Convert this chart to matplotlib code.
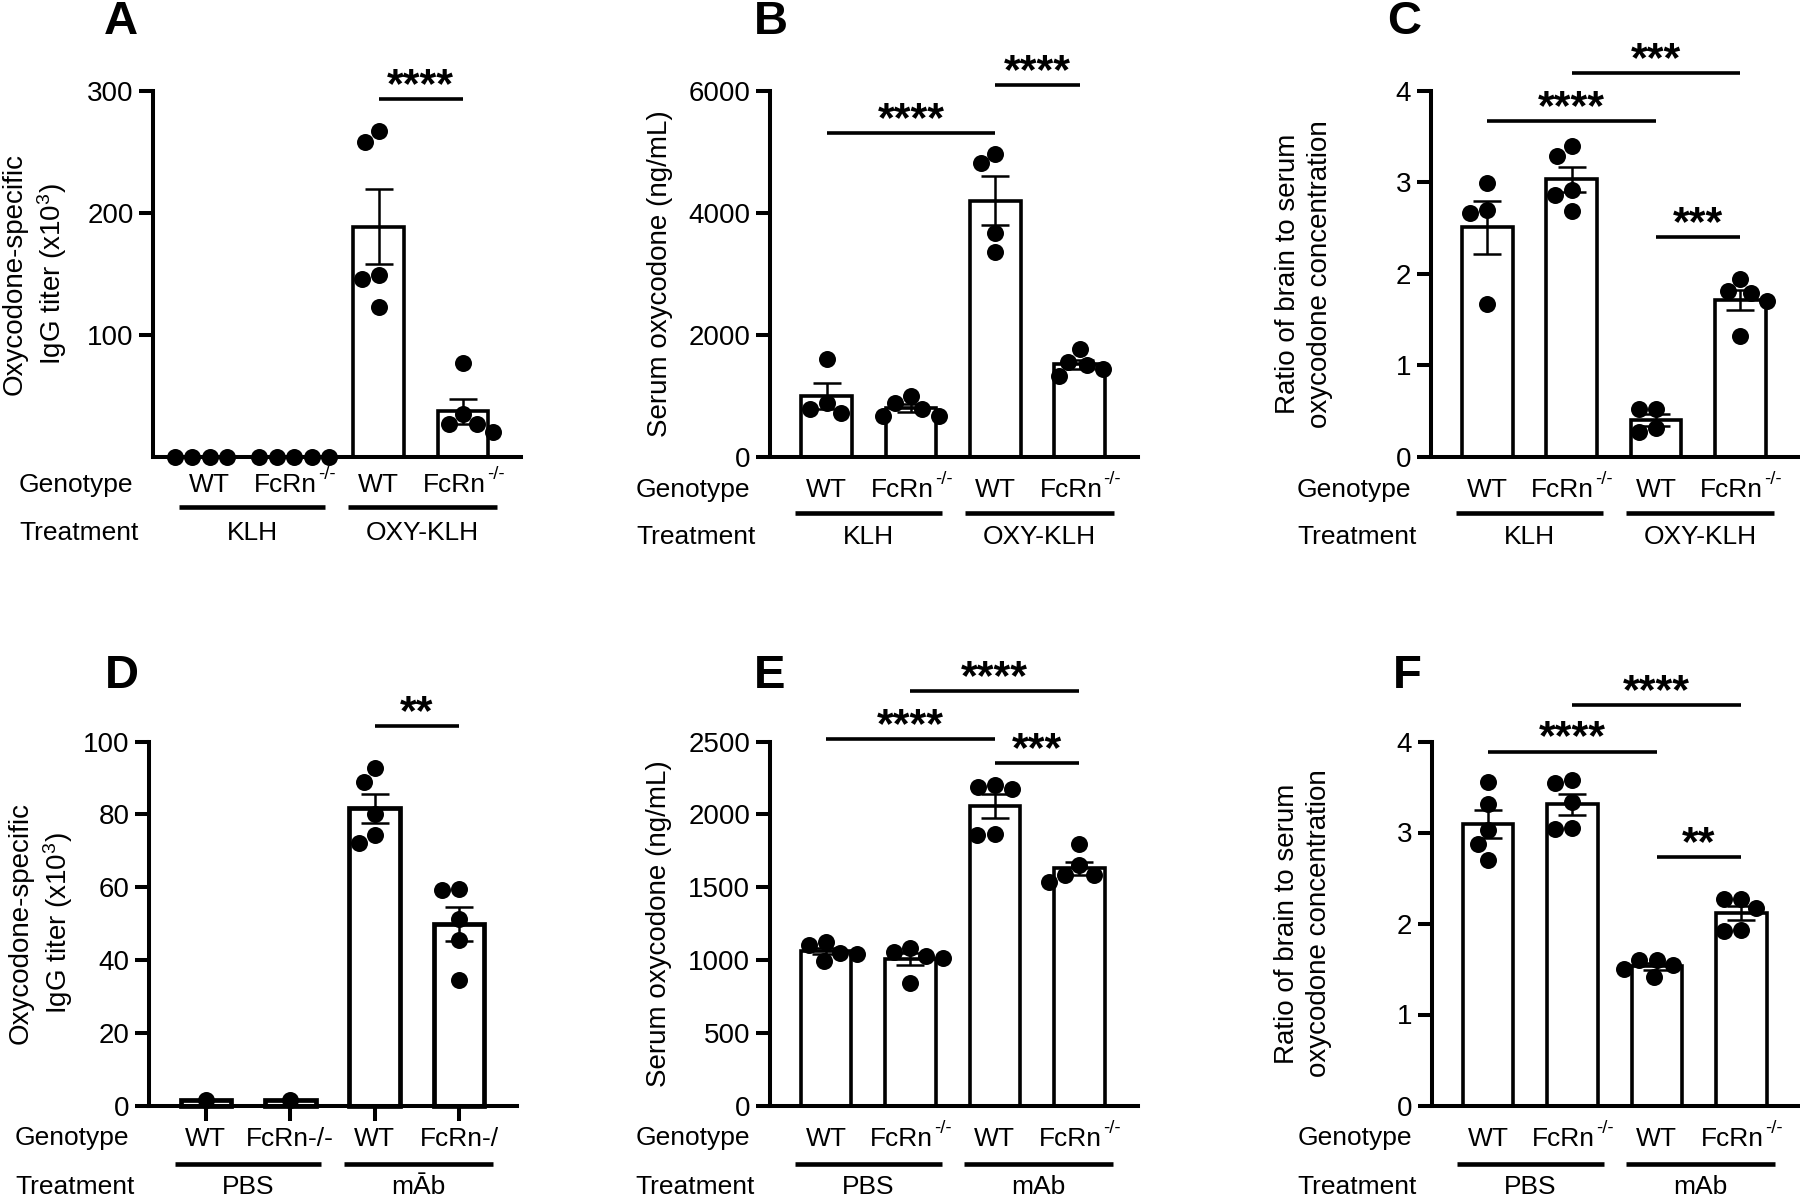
import numpy as np
import matplotlib
matplotlib.use('Agg')
import matplotlib.pyplot as plt
from matplotlib.transforms import offset_copy

plt.rcParams['font.family'] = ['Liberation Sans', 'DejaVu Sans']
plt.rcParams['mathtext.default'] = 'regular'

W, H, DPI = 1800, 1198, 100

# ---------------- data ----------------
# genotype labels: (base text, superscript text)
genotypes = [('WT', ''), ('FcRn', '-/-'), ('WT', ''), ('FcRn', '-/-')]
genotypes_D = [('WT', ''), ('FcRn-/-', ''), ('WT', ''), ('FcRn-/', '')]
treat_vaccine = ['KLH', 'OXY-KLH']
treat_mab = ['PBS', 'mAb']
treat_mab_D = ['PBS', 'mĀb']

A_points = [[0, 0, 0, 0], [0, 0, 0, 0, 0],
            [267, 258, 149, 146, 123], [77, 35, 26.5, 27, 20.6]]
B_points = [[1608, 716, 875, 775], [992, 875, 669, 669, 775],
            [4808, 4961, 3669, 3358], [1773, 1556, 1509, 1432, 1315]]
C_points = [[2.99, 2.70, 2.66, 1.67], [3.40, 3.29, 2.92, 2.86, 2.68],
            [0.52, 0.52, 0.27, 0.31], [1.94, 1.81, 1.79, 1.70, 1.32]]
D_points = [[1.5], [1.5],
            [92.7, 88.9, 80.2, 74.4, 72.2], [59.4, 59.1, 51.2, 45.5, 34.6]]
E_points = [[1100, 1123, 1043, 1048, 992], [1085, 1030, 1010, 1055, 842],
            [2186, 2204, 2173, 1859, 1864], [1796, 1651, 1583, 1583, 1538]]
F_points = [[3.56, 3.31, 3.03, 2.87, 2.70], [3.58, 3.54, 3.34, 3.05, 3.04],
            [1.60, 1.60, 1.54, 1.50, 1.41], [2.27, 2.27, 2.17, 1.92, 1.93]]

A_sig = [(2, 3, 293, '****')]
B_sig = [(0, 2, 5300, '****'), (2, 3, 6090, '****')]
C_sig = [(0, 2, 3.67, '****'), (1, 3, 4.19, '***'), (2, 3, 2.40, '***')]
D_sig = [(2, 3, 104.3, '**')]
E_sig = [(0, 2, 2518, '****'), (1, 3, 2844, '****'), (2, 3, 2354, '***')]
F_sig = [(0, 2, 3.89, '****'), (1, 3, 4.40, '****'), (2, 3, 2.73, '**')]

A_ticks = [100, 200, 300]
B_ticks = [0, 2000, 4000, 6000]
C_ticks = [0, 1, 2, 3, 4]
D_ticks = [0, 20, 40, 60, 80, 100]
E_ticks = [0, 500, 1000, 1500, 2000, 2500]
F_ticks = [0, 1, 2, 3, 4]

ylabel_titer = 'Oxycodone-specific\nIgG titer (x10$^3$)'
ylabel_serum = 'Serum oxycodone (ng/mL)'
ylabel_ratio = 'Ratio of brain to serum\noxycodone concentration'

# ---------------- layout (pixels) ----------------
AX_W = 368
XLIM = (-0.67, 3.69)
panels = [
    dict(letter='A', left=153.3, bottom=456.7, h=366, pts=A_points, ticks=A_ticks,
         ylab=ylabel_titer, ylx=-118, gen=genotypes, trt=treat_vaccine, sig=A_sig,
         offs=(28, 50, 76), letter_xy=(121, 22), xticks=False, lw_bar=2.6),
    dict(letter='B', left=770, bottom=456.7, h=366, pts=B_points, ticks=B_ticks,
         ylab=ylabel_serum, ylx=-110, gen=genotypes, trt=treat_vaccine, sig=B_sig,
         offs=(33, 56, 80), letter_xy=(771, 22), xticks=False, lw_bar=2.6),
    dict(letter='C', left=1430.7, bottom=456.7, h=366, pts=C_points, ticks=C_ticks,
         ylab=ylabel_ratio, ylx=-127, gen=genotypes, trt=treat_vaccine, sig=C_sig,
         offs=(33, 56, 80), letter_xy=(1404, 22), xticks=False, lw_bar=2.6),
    dict(letter='D', left=149.3, bottom=1105.5, h=364, pts=D_points, ticks=D_ticks,
         ylab=ylabel_titer, ylx=-108, gen=genotypes_D, trt=treat_mab_D, sig=D_sig,
         offs=(33, 58, 81), letter_xy=(122, 676), xticks=True, lw_bar=3.4),
    dict(letter='E', left=769.5, bottom=1105.5, h=364, pts=E_points, ticks=E_ticks,
         ylab=ylabel_serum, ylx=-110, gen=genotypes, trt=treat_mab, sig=E_sig,
         offs=(33, 58, 81), letter_xy=(770, 676), xticks=False, lw_bar=2.6),
    dict(letter='F', left=1431.5, bottom=1105.5, h=364, pts=F_points, ticks=F_ticks,
         ylab=ylabel_ratio, ylx=-128, gen=genotypes, trt=treat_mab, sig=F_sig,
         offs=(33, 58, 81), letter_xy=(1407, 676), xticks=False, lw_bar=2.6),
]

FS = 19
FS_AX = 20
MARKER_PX = 17.0


def swarm(values, px_per_y, px_per_x, d):
    """Beeswarm x offsets (data units) so that markers of diameter d px don't overlap."""
    ys = np.asarray(values, float) * px_per_y
    order = np.argsort(-ys, kind='stable')
    placed = []
    xs = np.zeros(len(ys))
    for i in order:
        y = ys[i]
        cands = [0.0]
        for (px, py) in placed:
            dy = abs(py - y)
            if dy < d:
                dx = np.sqrt(d * d - dy * dy)
                cands += [px - dx, px + dx]
        best = 0.0
        for c in sorted(cands, key=lambda v: (round(abs(v), 6), v)):
            if all((c - px) ** 2 + (y - py) ** 2 >= d * d - 1e-6 for (px, py) in placed):
                best = c
                break
        placed.append((best, y))
        xs[i] = best / px_per_x
    return xs


fig = plt.figure(figsize=(W / DPI, H / DPI), dpi=DPI)
renderer = fig.canvas.get_renderer()


def label_with_sup(ax, xd, ya, base, sup):
    tr = ax.get_xaxis_transform()
    if not sup:
        ax.text(xd, ya, base, transform=tr, ha='center', va='center', fontsize=FS,
                clip_on=False)
        return
    t1 = ax.text(xd, ya, base, transform=tr, ha='left', va='center', fontsize=FS,
                 clip_on=False)
    t2 = ax.text(xd, ya, sup, transform=tr, ha='left', va='center', fontsize=FS * 0.7,
                 clip_on=False)
    w1 = t1.get_window_extent(renderer).width
    w2 = t2.get_window_extent(renderer).width
    tot = w1 + w2
    t1.set_transform(offset_copy(tr, fig=fig, x=-tot / 2, y=0, units='dots'))
    t2.set_transform(offset_copy(tr, fig=fig, x=-tot / 2 + w1 + 1, y=10, units='dots'))


for p in panels:
    left = p['left'] / W
    bottom = 1 - p['bottom'] / H
    ax = fig.add_axes([left, bottom, AX_W / W, p['h'] / H])
    ticks = p['ticks']
    ymax = ticks[-1]
    ax.set_xlim(*XLIM)
    ax.set_ylim(0, ymax)
    x = np.arange(4)
    pts = p['pts']
    means = np.array([np.mean(v) for v in pts])
    sems = np.array([np.std(v, ddof=1) / np.sqrt(len(v)) if len(v) > 1 else 0.0
                     for v in pts])

    ax.bar(x, means, width=0.6, facecolor='white', edgecolor='black',
           linewidth=p['lw_bar'], zorder=2, clip_on=False)
    px_per_y = p['h'] / ymax
    px_per_x = AX_W / (XLIM[1] - XLIM[0])
    for i, v in enumerate(pts):
        offs = swarm(v, px_per_y, px_per_x, MARKER_PX + 0.5)
        ax.plot(i + offs, v, 'o', color='black', markersize=MARKER_PX * 72 / DPI,
                markeredgewidth=0, zorder=3, clip_on=False)
    for i in range(4):
        if sems[i] > 0:
            ax.errorbar(x[i], means[i], yerr=sems[i], fmt='none', ecolor='black',
                        elinewidth=1.8, capsize=10, capthick=1.8, zorder=4)

    for s in ['top', 'right']:
        ax.spines[s].set_visible(False)
    for s in ['left', 'bottom']:
        ax.spines[s].set_linewidth(2.9)
        ax.spines[s].set_zorder(5)
    ax.set_yticks(ticks)
    ax.set_yticklabels([str(t) for t in ticks])
    ax.tick_params(axis='y', length=10, width=2.9, labelsize=FS_AX, pad=4)
    if p['xticks']:
        ax.set_xticks(x)
        ax.tick_params(axis='x', length=11, width=2.9, labelbottom=False)
    else:
        ax.set_xticks([])

    tr = ax.get_xaxis_transform()
    hpx = p['h']
    g_off, l_off, t_off = p['offs']
    for i, (g, sup) in enumerate(p['gen']):
        label_with_sup(ax, x[i], -g_off / hpx, g, sup)
    for (a, b), t in zip([(-0.37, 1.37), (1.64, 3.40)], p['trt']):
        ax.plot([a, b], [-l_off / hpx] * 2, transform=tr, color='black', lw=3.3,
                solid_capstyle='butt', clip_on=False)
        ax.text((a + b) / 2, -t_off / hpx, t, transform=tr, ha='center', va='center',
                fontsize=FS, clip_on=False)
    fig.text((p['left'] - 77) / W, 1 - (p['bottom'] + g_off) / H, 'Genotype',
             ha='center', va='center', fontsize=FS)
    fig.text((p['left'] - 74) / W, 1 - (p['bottom'] + t_off) / H, 'Treatment',
             ha='center', va='center', fontsize=FS)

    for (i, j, yv, lab) in p['sig']:
        ax.plot([i, j], [yv, yv], color='black', lw=2.6, solid_capstyle='butt',
                clip_on=False, zorder=5)
        ax.annotate(lab, xy=((i + j) / 2, yv), xytext=(0, 1.5), textcoords='offset points',
                    ha='center', va='baseline', fontsize=31, fontweight='bold',
                    annotation_clip=False)

    yc = 1 - (p['bottom'] - hpx / 2) / H
    fig.text((p['left'] + p['ylx']) / W, yc, p['ylab'], rotation=90, ha='center',
             va='center', fontsize=FS_AX, multialignment='center', linespacing=1.3)
    lx, ly = p['letter_xy']
    fig.text(lx / W, 1 - ly / H, p['letter'], ha='center', va='center',
             fontsize=34, fontweight='bold')

fig.savefig('out.png', dpi=DPI, facecolor='white')
